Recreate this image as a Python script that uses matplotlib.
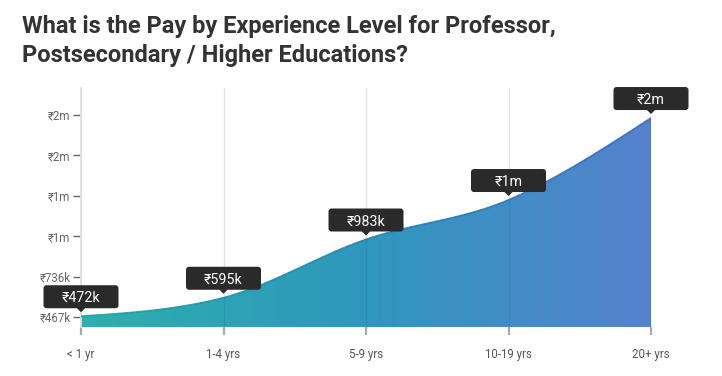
import numpy as np
import matplotlib
matplotlib.use('Agg')
import matplotlib.pyplot as plt
from matplotlib.patches import Polygon, FancyBboxPatch
from matplotlib.collections import LineCollection
from matplotlib.transforms import IdentityTransform
from matplotlib.colors import LinearSegmentedColormap

# ---- data ----
categories = ['< 1 yr', '1-4 yrs', '5-9 yrs', '10-19 yrs', '20+ yrs']
values = [472000, 595000, 983000, 1246000, 1792000]
value_labels = ['₹472k', '₹595k', '₹983k', '₹1m', '₹2m']
ytick_values = [467000, 736000, 1005000, 1274000, 1543000, 1812000]
ytick_labels = ['₹467k', '₹736k', '₹1m', '₹1m', '₹2m', '₹2m']
title_lines = ['What is the Pay by Experience Level for Professor,',
               'Postsecondary / Higher Educations?']

plt.rcParams['font.family'] = ['Roboto', 'DejaVu Sans']

W, H, DPI = 722, 376, 100
fig = plt.figure(figsize=(W / DPI, H / DPI), dpi=DPI)
ax = fig.add_axes([81 / W, 1 - 327 / H, 570 / W, 239 / H])
ymin, ymax = 400300, 1992000
ax.set_xlim(0, len(values) - 1)
ax.set_ylim(ymin, ymax)


def monotone_x(xs, ys, n=60):
    xs = np.asarray(xs, float)
    ys = np.asarray(ys, float)
    h = np.diff(xs)
    s = np.diff(ys) / h
    m = np.zeros_like(ys)
    for i in range(1, len(ys) - 1):
        s0, s1 = s[i - 1], s[i]
        p = (s0 * h[i] + s1 * h[i - 1]) / (h[i - 1] + h[i])
        m[i] = (np.sign(s0) + np.sign(s1)) * min(abs(s0), abs(s1), 0.5 * abs(p))
    m[0] = (3 * s[0] - m[1]) / 2
    m[-1] = (3 * s[-1] - m[-2]) / 2
    px, py = [], []
    for i in range(len(xs) - 1):
        t = np.linspace(0, 1, n, endpoint=(i == len(xs) - 2))
        h00 = 2 * t**3 - 3 * t**2 + 1
        h10 = t**3 - 2 * t**2 + t
        h01 = -2 * t**3 + 3 * t**2
        h11 = t**3 - t**2
        px.append(xs[i] + t * h[i])
        py.append(h00 * ys[i] + h10 * h[i] * m[i] + h01 * ys[i + 1] + h11 * h[i] * m[i + 1])
    return np.concatenate(px), np.concatenate(py)


x = np.arange(len(values))
cx, cy = monotone_x(x, values)

c_left, c_right = '#2cb0ae', '#5581cd'
cmap = LinearSegmentedColormap.from_list('g', [c_left, '#2f97bd', c_right])
verts = np.column_stack([np.r_[cx, cx[-1], cx[0]], np.r_[cy, ymin, ymin]])
poly = Polygon(verts, closed=True, facecolor='none', edgecolor='none')
ax.add_patch(poly)
grad = np.linspace(0, 1, 256).reshape(1, -1)
im = ax.imshow(grad, cmap=cmap, extent=(0, len(values) - 1, ymin, ymax),
               aspect='auto', origin='lower', zorder=2)
im.set_clip_path(poly)

# curve stroke
pts = np.column_stack([cx, cy]).reshape(-1, 1, 2)
segs = np.concatenate([pts[:-1], pts[1:]], axis=1)
scmap = LinearSegmentedColormap.from_list('s', ['#20a3a3', '#2384b4', '#3c6fc6'])
lc = LineCollection(segs, cmap=scmap, linewidth=1.3, zorder=4)
lc.set_array(cx[:-1] / cx[-1])
ax.add_collection(lc)
# right edge + bottom edge strokes
ax.plot([cx[-1], cx[-1]], [ymin, cy[-1]], color='#3f7ddb', lw=1.2, zorder=4)
ax.plot([0, cx[-1]], [ymin + 1500, ymin + 1500], color='#5fa0d6', lw=1.0, alpha=0.7, zorder=4)

# grid lines
for xi in x[1:-1]:
    ax.axvline(xi, color='#e3e3e3', lw=1.0, zorder=1)
    gl = ax.axvline(xi, color='#1a4a7a', lw=0.8, alpha=0.15, zorder=3)
    gl.set_clip_path(poly)

# spines & ticks
for sp in ['top', 'right', 'bottom']:
    ax.spines[sp].set_visible(False)
ax.spines['left'].set_color('#dddddd')
ax.spines['left'].set_linewidth(1.3)
ax.set_yticks(ytick_values)
ax.set_yticklabels(ytick_labels)
ax.set_xticks(x)
ax.set_xticklabels(categories)
ax.tick_params(axis='y', direction='out', length=6, width=1.0, color='#666666',
               labelcolor='#666666', labelsize=8.3, pad=1.5)
ax.tick_params(axis='x', direction='out', length=6, width=1.6, color='#aaaaaa',
               labelcolor='#555555', labelsize=8.3, pad=9)

# value labels (tooltips)
fig.canvas.draw()
for xi, v, lab in zip(x, values, value_labels):
    px, py = ax.transData.transform((xi, v))
    bw, bh, gap = 75, 23, 8
    box = FancyBboxPatch((px - bw / 2, py + gap), bw, bh,
                         boxstyle='round,pad=0,rounding_size=3',
                         facecolor='#2b2a2a', edgecolor='none',
                         transform=IdentityTransform(), zorder=10)
    fig.add_artist(box)
    tri = Polygon([(px - 4.5, py + gap + 0.5), (px + 4.5, py + gap + 0.5), (px, py + gap - 4)],
                  closed=True, facecolor='#2b2a2a', edgecolor='none',
                  transform=IdentityTransform(), zorder=10)
    fig.add_artist(tri)
    fig.text(px / W, (py + gap + bh / 2) / H, lab, color='white', fontsize=10.3,
             ha='center', va='center_baseline', zorder=11)

# title: baselines at ~33 px and ~62 px from the top
for i, line in enumerate(title_lines):
    fig.text(22 / W, 1 - (33.5 + 28.3 * i) / H, line, ha='left', va='baseline',
             fontsize=17.0, fontweight='bold', color='#333333')

fig.savefig('out.png', dpi=DPI)
